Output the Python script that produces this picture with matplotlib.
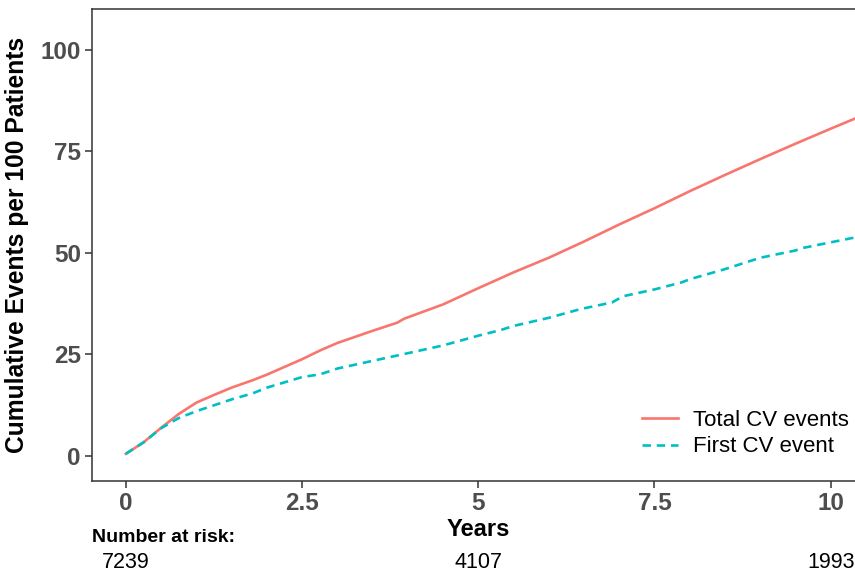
import matplotlib
matplotlib.use('Agg')
import matplotlib.pyplot as plt
import matplotlib.transforms as mtransforms

# cumulative events per 100 patients
total_t = [0, 0.25, 0.5, 0.75, 1.0, 1.25, 1.5, 1.81, 2.0, 2.5, 2.76, 3.0, 3.5, 3.85, 3.95,
           4.5, 5.0, 5.5, 6.0, 6.5, 7.0, 7.5, 8.0, 8.5, 9.0, 9.5, 10.0, 10.4]
total_y = [0.5, 3.3, 6.9, 10.3, 13.1, 15.0, 16.8, 18.7, 20.0, 23.8, 26.0, 27.8, 30.8, 32.8, 33.8,
           37.3, 41.3, 45.2, 48.8, 52.8, 57.0, 61.0, 65.2, 69.2, 73.1, 76.9, 80.6, 83.5]

first_t = [0, 0.25, 0.5, 0.75, 1.0, 1.5, 1.8, 2.0, 2.5, 2.76, 3.0, 3.5, 3.9, 4.5, 5.0, 5.32,
           5.5, 6.0, 6.46, 6.9, 7.05, 7.5, 7.88, 8.0, 8.5, 9.0, 9.5, 9.6, 10.0, 10.4]
first_y = [0.5, 3.3, 6.8, 9.3, 11.0, 13.9, 15.4, 16.8, 19.4, 20.1, 21.5, 23.4, 24.9, 27.2, 29.6, 31.0,
           32.0, 34.0, 36.2, 37.8, 39.3, 41.0, 42.7, 43.5, 46.0, 48.8, 50.6, 51.2, 52.6, 54.0]

risk_years = [0, 5, 10]
risk_counts = ['7239', '4107', '1993']

plt.rcParams['font.family'] = ['Liberation Sans', 'DejaVu Sans']

fig = plt.figure(figsize=(8.55, 5.72), dpi=100)
ax = fig.add_axes([92 / 855, 1 - 481 / 572, 1 - 92 / 855 + 0.002, (481 - 9) / 572])

ax.plot(total_t, total_y, color='#F8766D', lw=1.9, label='Total CV events')
ax.plot(first_t, first_y, color='#00BFC4', lw=1.9, ls=(0, (3.2, 2.2)), label='First CV event')

ax.set_xlim(-0.48, 10.37)
ax.set_ylim(-6.2, 110.1)
ax.set_xticks([0, 2.5, 5, 7.5, 10])
ax.set_xticklabels(['0', '2.5', '5', '7.5', '10'])
ax.set_yticks([0, 25, 50, 75, 100])
for lab in ax.get_xticklabels() + ax.get_yticklabels():
    lab.set_fontweight('bold')
ax.tick_params(labelsize=17.5, colors='#333333', labelcolor='#4D4D4D', length=5, width=1.1, pad=3)
for s in ax.spines.values():
    s.set_color('#333333')
    s.set_linewidth(1.1)
ax.spines['right'].set_visible(False)

ax.set_ylabel('Cumulative Events per 100 Patients', fontsize=17.7, fontweight='bold')
ax.yaxis.set_label_coords((29 - 92) / 763, 0.5)

leg = ax.legend(loc='lower right', frameon=False, fontsize=16, handlelength=1.6,
                handletextpad=0.7, labelspacing=0.25, borderpad=0, borderaxespad=0,
                bbox_to_anchor=(0.99, 0.05))

trans = mtransforms.blended_transform_factory(ax.transData, fig.transFigure)
fig.text(5, 1 - 530 / 572, 'Years', transform=trans, ha='center', va='center',
         fontsize=17, fontweight='bold')
fig.text(92 / 855, 1 - 537 / 572, 'Number at risk:', ha='left', va='center',
         fontsize=14, fontweight='bold')
for yr, n in zip(risk_years, risk_counts):
    fig.text(yr, 1 - 563 / 572, n, transform=trans, ha='center', va='center', fontsize=15.5)

fig.savefig('out.png', dpi=100)
